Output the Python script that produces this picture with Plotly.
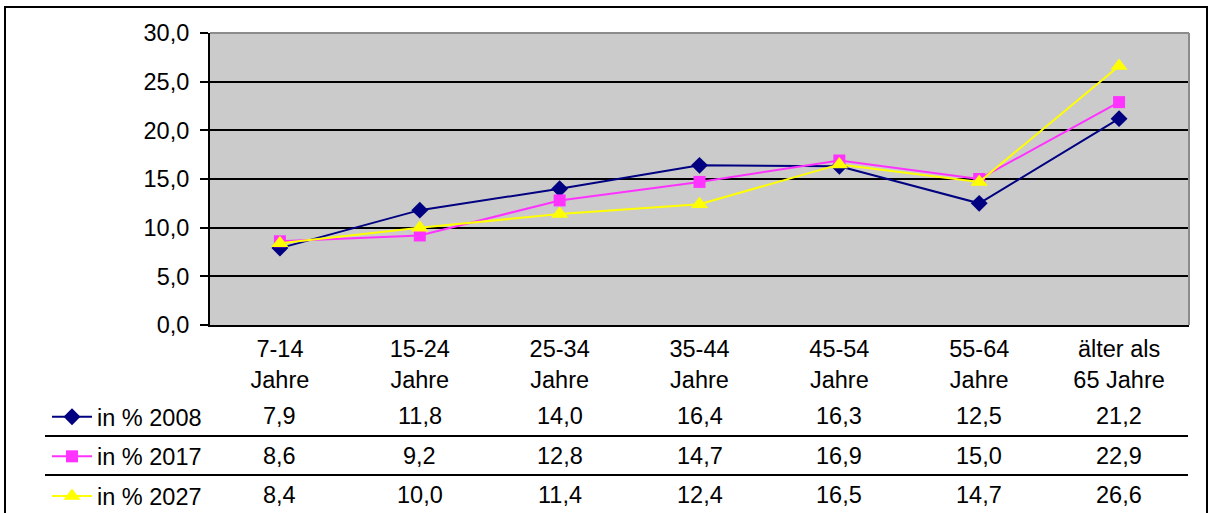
import plotly.graph_objects as go

# Age groups and their shares (percent) per year
categories = ["7-14 Jahre", "15-24 Jahre", "25-34 Jahre", "35-44 Jahre",
              "45-54 Jahre", "55-64 Jahre", "älter als 65 Jahre"]
category_labels = ["7-14<br>Jahre", "15-24<br>Jahre", "25-34<br>Jahre", "35-44<br>Jahre",
                   "45-54<br>Jahre", "55-64<br>Jahre", "älter als<br>65 Jahre"]
series_names = ["in % 2008", "in % 2017", "in % 2027"]
values_2008 = [7.9, 11.8, 14.0, 16.4, 16.3, 12.5, 21.2]
values_2017 = [8.6, 9.2, 12.8, 14.7, 16.9, 15.0, 22.9]
values_2027 = [8.4, 10.0, 11.4, 12.4, 16.5, 14.7, 26.6]
y_ticks = [0, 5, 10, 15, 20, 25, 30]

W, H = 1210, 513
FONT = "Liberation Sans, Arial, sans-serif"
FS = 23.5

styles = [
    dict(color="#000080", symbol="diamond", size=13),
    dict(color="#FF33FF", symbol="square", size=12),
    dict(color="#FFFF00", symbol="triangle-up", size=15),
]
all_values = [values_2008, values_2017, values_2027]


def px_x(p):
    return p / W


def px_y(p):
    return 1 - p / H


fig = go.Figure()
for i, (name, vals, st) in enumerate(zip(series_names, all_values, styles)):
    fig.add_trace(go.Scatter(
        x=categories, y=vals, name=name, mode="lines+markers",
        legendgroup=f"g{i}",
        line=dict(color=st["color"], width=2),
        marker=dict(color=st["color"], symbol=st["symbol"], size=st["size"],
                    line=dict(width=0)),
        cliponaxis=False,
    ))

# data table rows beneath the chart
row_centers = [416, 456, 495]
annotations = []
for vals, yc in zip(all_values, row_centers):
    for cat, v in zip(categories, vals):
        annotations.append(dict(
            x=cat, y=px_y(yc), xref="x", yref="paper",
            text=f"{v:.1f}".replace(".", ","), showarrow=False,
            font=dict(family=FONT, size=FS, color="black"),
            xanchor="center", yanchor="middle",
        ))

shapes = [
    # outer frame
    dict(type="rect", xref="paper", yref="paper",
         x0=px_x(5), x1=px_x(1207), y0=px_y(7), y1=-0.02,
         line=dict(color="black", width=2), layer="above"),
    # plot-area border (top / right)
    dict(type="line", xref="x domain", yref="y domain", x0=0, x1=1, y0=1, y1=1,
         line=dict(color="#8C8C8C", width=2), layer="above"),
    dict(type="line", xref="x domain", yref="y domain", x0=1, x1=1, y0=0, y1=1,
         line=dict(color="#8C8C8C", width=2), layer="above"),
]
# table row separators
for yp in [436, 475]:
    shapes.append(dict(type="line", xref="paper", yref="paper",
                       x0=px_x(45), x1=px_x(1188), y0=px_y(yp), y1=px_y(yp),
                       line=dict(color="black", width=2)))

fig.update_layout(
    width=W, height=H,
    margin=dict(l=0, r=0, t=0, b=0, autoexpand=False),
    paper_bgcolor="white",
    plot_bgcolor="#CBCBCB",
    separators=",.",
    font=dict(family=FONT, size=FS, color="black"),
    showlegend=True,
    legend=dict(
        x=px_x(47), y=px_y(395), xanchor="left", yanchor="top",
        bgcolor="rgba(0,0,0,0)", tracegroupgap=6, itemwidth=40,
        font=dict(family=FONT, size=FS, color="black"),
    ),
    xaxis=dict(
        domain=[px_x(210), px_x(1189)],
        type="category", range=[-0.5, 6.5],
        tickvals=categories, ticktext=category_labels,
        showline=True, linecolor="black", linewidth=2,
        ticks="", showgrid=False, zeroline=False, automargin=False,
        ticklabelstandoff=2,
        tickfont=dict(family=FONT, size=FS, color="black"),
    ),
    yaxis=dict(
        domain=[1 - 325 / H, 1 - 33 / H],
        range=[0, 30], tickvals=y_ticks, tickformat=".1f",
        showline=True, linecolor="black", linewidth=2,
        ticks="outside", ticklen=8, tickwidth=2, tickcolor="black",
        showgrid=True, gridcolor="black", gridwidth=2, zeroline=False,
        automargin=False, ticklabelstandoff=6,
        tickfont=dict(family=FONT, size=FS, color="black"),
    ),
    annotations=annotations,
    shapes=shapes,
)

fig.write_html("out.html", config={"displayModeBar": False})
